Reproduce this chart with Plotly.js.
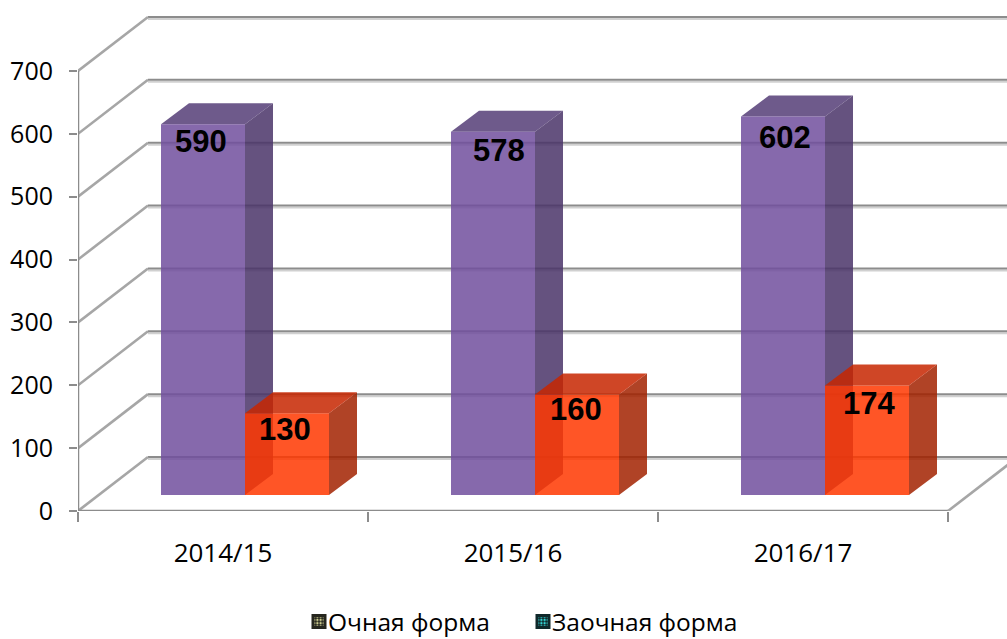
<!DOCTYPE html>
<html>
<head>
<meta charset="utf-8">
<script src="https://cdn.plot.ly/plotly-3.0.1.min.js"></script>
<style>html,body{margin:0;padding:0;background:#fff;overflow:hidden}</style>
</head>
<body>
<div id="chart" style="width:1007px;height:639px"></div>
<script>
// ---- data ----
const categories = ['2014/15', '2015/16', '2016/17'];
const fullTime = [590, 578, 602];
const partTime = [130, 160, 174];
const seriesNames = ['Очная форма', 'Заочная форма'];
const yTicks = [0, 100, 200, 300, 400, 500, 600, 700];

// ---- label nudges (pixels from the top centre of each front face) ----
const fullShiftX = [-2, 6, 2];
const fullShiftY = [-17, -19, -21];
const partShiftX = [-2, -1, 2];
const partShiftY = [-16, -15, -18];

// ---- 3D projection, in axis units ----
const X_MAX = 929 / 290;
const Y_MAX = 497 / 0.6286;
const WALL_DX = 70 / 290, WALL_DY = 54 / 0.6286;
const DEPTH_DX = 28 / 290, DEPTH_DY = 21 / 0.6286;
const BAR_BASE = 16 / 0.6286;
const BAR_W = 84 / 290;
const OFF_A = 83 / 290;
const OFF_B = OFF_A + BAR_W;
const SHADOW = 3.2;

function joinSeg(list) {
  const xs = [], ys = [];
  list.forEach(seg => { seg.forEach(p => { xs.push(p[0]); ys.push(p[1]); }); xs.push(null); ys.push(null); });
  return {x: xs, y: ys};
}
function gridSegs(dy) {
  return yTicks.map(v => [[WALL_DX, v + WALL_DY + dy], [X_MAX, v + WALL_DY + dy]]);
}
function sideFaces(values, off) {
  return joinSeg(values.map((v, i) => {
    const xr = i + off + BAR_W;
    return [[xr, BAR_BASE], [xr + DEPTH_DX, BAR_BASE + DEPTH_DY],
            [xr + DEPTH_DX, BAR_BASE + v + DEPTH_DY], [xr, BAR_BASE + v], [xr, BAR_BASE]];
  }));
}
function topFaces(values, off) {
  return joinSeg(values.map((v, i) => {
    const xl = i + off, t = BAR_BASE + v;
    return [[xl, t], [xl + DEPTH_DX, t + DEPTH_DY], [xl + BAR_W + DEPTH_DX, t + DEPTH_DY],
            [xl + BAR_W, t], [xl, t]];
  }));
}
function line(seg, color, width, extra) {
  return Object.assign({type: 'scatter', mode: 'lines', x: seg.x, y: seg.y, hoverinfo: 'skip',
    showlegend: false, line: {color: color, width: width}, cliponaxis: false, connectgaps: false}, extra || {});
}
function face(seg, color, extra) {
  return Object.assign({type: 'scatter', mode: 'lines', x: seg.x, y: seg.y, fill: 'toself', fillcolor: color,
    line: {width: 0, color: color}, hoverinfo: 'skip', showlegend: false}, extra || {});
}
const over = {xaxis: 'x2', yaxis: 'y2'};

const traces = [
  // walls and floor
  line(joinSeg(gridSegs(-SHADOW)), '#d0d0d0', 2),
  line(joinSeg(gridSegs(0)), '#8c8c8c', 2),
  line(joinSeg(yTicks.map(v => [[0, v], [WALL_DX, v + WALL_DY]])), '#a6a6a6', 2.6),
  line(joinSeg([[[0, -SHADOW], [3, -SHADOW]]]), '#d0d0d0', 2),
  line(joinSeg([[[0, 0], [3, 0]], [[0, 0], [0, yTicks[yTicks.length - 1]]]]), '#8c8c8c', 2.5),
  line(joinSeg([[[3, 0], [3 + WALL_DX, WALL_DY]]]), '#a6a6a6', 2.6),
  // rear series side and top
  face(sideFaces(fullTime, OFF_A), 'rgba(74,52,105,0.85)'),
  face(topFaces(fullTime, OFF_A), 'rgba(85,61,119,0.85)'),
  // front faces
  {type: 'bar', x: [0, 1, 2], y: fullTime, base: BAR_BASE, offset: OFF_A, width: BAR_W, xaxis: 'x2', yaxis: 'y2',
   marker: {color: 'rgba(113,79,157,0.85)', line: {width: 0}}, showlegend: false, hoverinfo: 'y', name: seriesNames[0]},
  {type: 'bar', x: [0, 1, 2], y: partTime, base: BAR_BASE, offset: OFF_B, width: BAR_W, xaxis: 'x2', yaxis: 'y2',
   marker: {color: 'rgba(255,55,0,0.85)', line: {width: 0}}, showlegend: false, hoverinfo: 'y', name: seriesNames[1]},
  face(sideFaces(partTime, OFF_B), 'rgba(162,34,0,0.85)', over),
  face(topFaces(partTime, OFF_B), 'rgba(199,38,0,0.85)', over),
  // legend keys
  {type: 'bar', x: [null], y: [null], xaxis: 'x2', yaxis: 'y2', name: seriesNames[0], hoverinfo: 'skip',
   marker: {color: '#2a2a2a', line: {width: 2, color: '#26261e'}, pattern: {shape: '.', size: 4, solidity: 0.45, bgcolor: '#26261e', fgcolor: '#cfcf90'}}},
  {type: 'bar', x: [null], y: [null], xaxis: 'x2', yaxis: 'y2', name: seriesNames[1], hoverinfo: 'skip',
   marker: {color: '#0f2a2a', line: {width: 2, color: '#10282a'}, pattern: {shape: '.', size: 4, solidity: 0.45, bgcolor: '#10282a', fgcolor: '#35d8d8'}}}
];

function labels(values, off, sx, sy) {
  return values.map((v, i) => ({
    xref: 'x2', yref: 'y2', x: i + off + BAR_W / 2, y: BAR_BASE + v, text: String(v), showarrow: false,
    xanchor: 'center', yanchor: 'middle', xshift: sx[i], yshift: sy[i],
    font: {family: '"Liberation Sans", Arial, sans-serif', size: 31, color: '#000', weight: 700}
  }));
}

const yFont = {family: '"Open Sans", sans-serif', size: 25, color: '#000'};
const xFont = {family: '"Open Sans", sans-serif', size: 26, color: '#000'};
const layout = {
  width: 1007, height: 639,
  margin: {l: 78, r: 0, t: 14, b: 128, pad: 0},
  paper_bgcolor: '#fff', plot_bgcolor: 'rgba(0,0,0,0)',
  barmode: 'overlay',
  showlegend: true,
  legend: {orientation: 'h', xref: 'container', yref: 'container', x: 0.286, xanchor: 'left', y: 0.0625, yanchor: 'top',
           entrywidth: 179, entrywidthmode: 'pixels',
           font: {family: '"Open Sans", sans-serif', size: 24.5, color: '#000'}, bgcolor: 'rgba(0,0,0,0)'},
  xaxis: {range: [0, X_MAX], tickmode: 'array', tickvals: [0.5, 1.5, 2.5], ticktext: categories,
          ticks: '', showgrid: false, zeroline: false, showline: false, tickfont: xFont, ticklabelstandoff: 24,
          minor: {tickmode: 'array', tickvals: [0, 1, 2, 3], ticks: 'outside', ticklen: 10, tickwidth: 2, tickcolor: '#8c8c8c', showgrid: false}},
  yaxis: {range: [0, Y_MAX], tickmode: 'array', tickvals: yTicks, ticktext: yTicks.map(String),
          ticks: 'outside', ticklen: 8, tickwidth: 2, tickcolor: '#8c8c8c', showgrid: false, zeroline: false, showline: false,
          tickfont: yFont, ticklabelstandoff: 11},
  xaxis2: {range: [0, X_MAX], overlaying: 'x', visible: false, anchor: 'y2'},
  yaxis2: {range: [0, Y_MAX], overlaying: 'y', visible: false, anchor: 'x2'},
  annotations: labels(fullTime, OFF_A, fullShiftX, fullShiftY).concat(labels(partTime, OFF_B, partShiftX, partShiftY))
};

Plotly.newPlot('chart', traces, layout, {displayModeBar: false, staticPlot: true}).then(() => {
  document.querySelectorAll('.legend .legendsymbols').forEach(g => g.setAttribute('transform', 'translate(11,0)'));
  document.querySelectorAll('.legend .legendsymbols path').forEach(p => { p.style.strokeWidth = '3px'; });
  document.querySelectorAll('.legend .scrollbox').forEach(g => g.removeAttribute('clip-path'));
});
</script>
</body>
</html>
